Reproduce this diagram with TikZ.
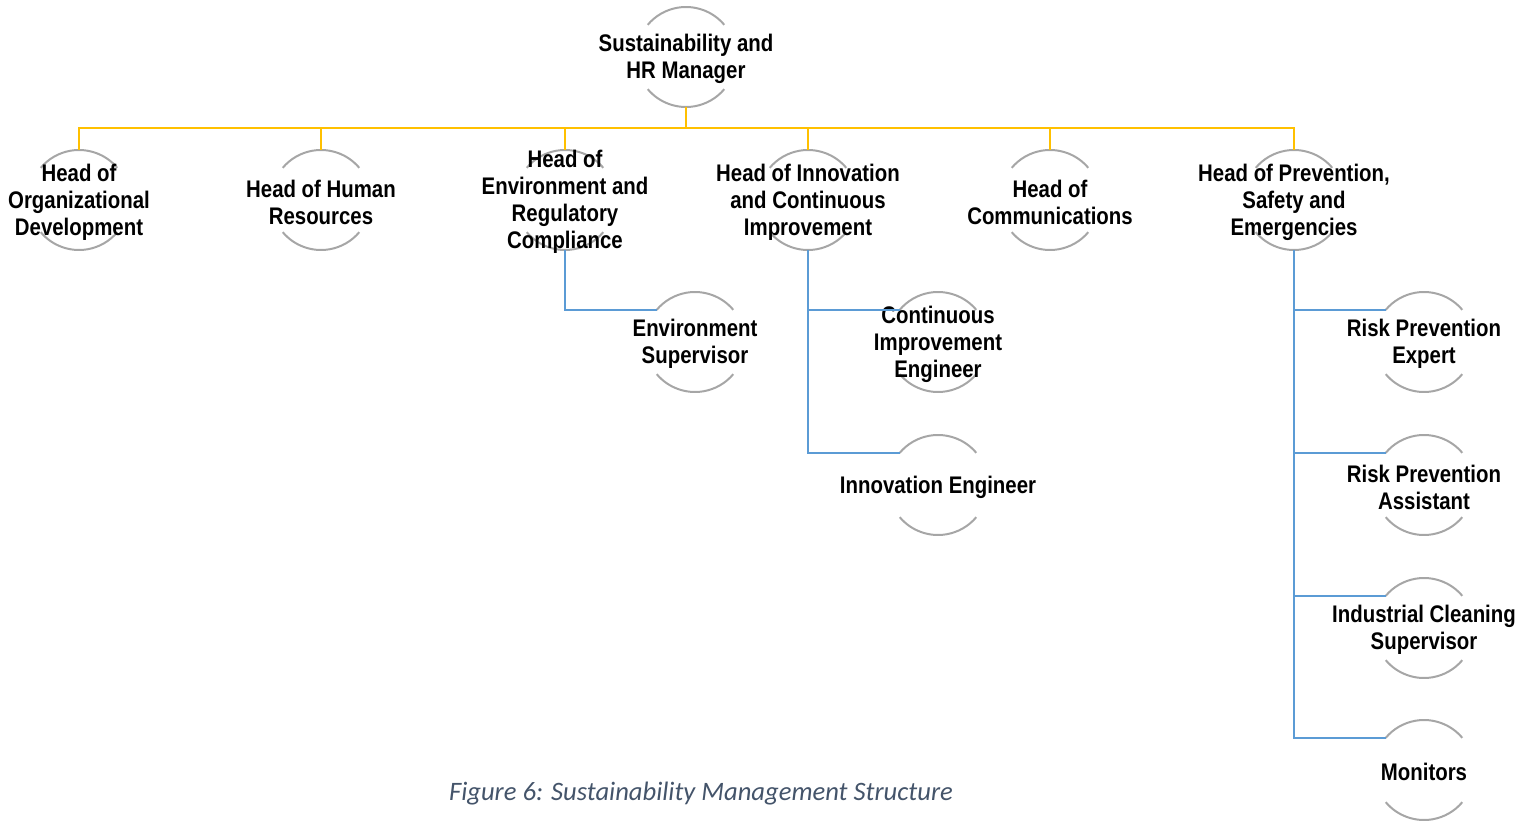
\documentclass[tikz,border=0pt]{standalone}
\usepackage{fontspec}
\newfontfamily\orgfont{Liberation Sans}[FakeStretch=0.85]
\newfontfamily\capfont{Carlito}
\usetikzlibrary{backgrounds}
\definecolor{ringgray}{HTML}{A6A6A6}
\definecolor{bossgold}{HTML}{FFC000}
\definecolor{teamblue}{HTML}{5B9BD5}
\definecolor{capslate}{HTML}{44546A}
\tikzset{
  post/.style={circle, minimum size=50pt, inner sep=0pt, outer sep=0pt},
  txt/.style={align=center, inner sep=0pt, yshift=-1pt, font=\orgfont\bfseries\fontsize{12}{13.5}\selectfont},
  ring/.style={draw=ringgray, line width=1pt},
  boss/.style={draw=bossgold, line width=1.35pt},
  team/.style={draw=teamblue, line width=1.15pt},
}

\begin{document}
\begin{tikzpicture}[x=0.5pt,y=0.5pt]
  \useasboundingbox (0,0) rectangle (1536,821);
  % manager
  \node[post, label={[txt]center:Sustainability and\\HR Manager}] (mgr) at (686,764) {};
  % heads
  \node[post, label={[txt]center:Head of\\Organizational\\Development}] (orgdev) at (79,621) {};
  \node[post, label={[txt]center:Head of Human\\Resources}] (hr) at (321,621) {};
  \node[post, label={[txt]center:Head of\\Environment and\\Regulatory\\Compliance}] (env) at (565,621) {};
  \node[post, label={[txt]center:Head of Innovation\\and Continuous\\Improvement}] (inno) at (808,621) {};
  \node[post, label={[txt]center:Head of\\Communications}] (comms) at (1050,621) {};
  \node[post, label={[txt]center:Head of Prevention,\\Safety and\\Emergencies}] (prev) at (1294,621) {};
  % staff
  \node[post, label={[txt]center:Environment\\Supervisor}] (envsup) at (695,479) {};
  \node[post, label={[txt]center:Continuous\\Improvement\\Engineer}] (cie) at (938,479) {};
  \node[post, label={[txt]center:Innovation Engineer}] (innoeng) at (938,336) {};
  \node[post, label={[txt]center:Risk Prevention\\Expert}] (riskexp) at (1424,479) {};
  \node[post, label={[txt]center:Risk Prevention\\Assistant}] (riskasst) at (1424,336) {};
  \node[post, label={[txt]center:Industrial Cleaning\\Supervisor}] (cleaning) at (1424,193) {};
  \node[post, label={[txt]center:Monitors}] (monitors) at (1424,51) {};

  % open rings behind the texts
  \begin{scope}[on background layer]
    \foreach \n in {mgr,orgdev,hr,env,inno,comms,prev,envsup,cie,innoeng,riskexp,riskasst,cleaning,monitors}{
      \draw[ring] (\n.40) arc (40:140:25pt);
      \draw[ring] (\n.220) arc (220:320:25pt);
    }
  \end{scope}

  % links
  \foreach \n in {orgdev,hr,env,inno,comms,prev}
    \draw[boss] (mgr.south) -- ++(0,-21) -| (\n.north);
  \draw[team] (env.south) |- (envsup.140);
  \foreach \n in {cie,innoeng}
    \draw[team] (inno.south) |- (\n.140);
  \foreach \n in {riskexp,riskasst,cleaning,monitors}
    \draw[team] (prev.south) |- (\n.140);

  \node[font=\capfont\itshape\fontsize{13.3}{15}\selectfont, text=capslate] (caption) at (701,27) {Figure 6: Sustainability Management Structure};
\end{tikzpicture}
\end{document}
